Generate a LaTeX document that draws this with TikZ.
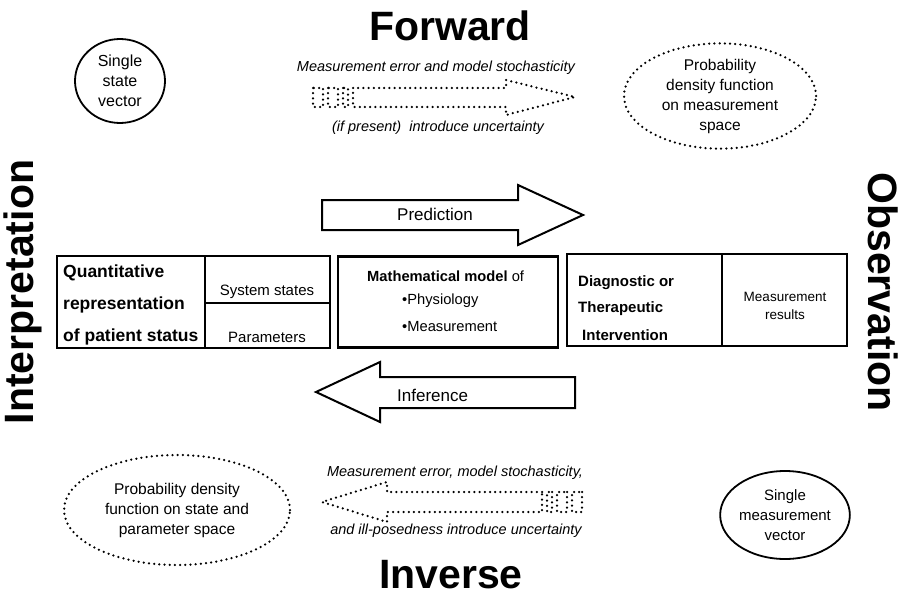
\documentclass[tikz,border=0pt]{standalone}
\usepackage{fontspec}
\setmainfont{Liberation Sans}
\usetikzlibrary{shapes.geometric}
\begin{document}
\begin{tikzpicture}[x=1pt,y=-1pt,
  solidline/.style={line width=1.8pt},
  boxline/.style={line width=2pt},
  dotline/.style={line width=2.5pt, dash pattern=on 0pt off 5.2pt, line cap=round},
  title/.style={font=\fontsize{41}{46}\selectfont\bfseries, inner sep=0pt},
  elltext/.style={align=center, font=\fontsize{15.5}{20}\selectfont, inner sep=0pt},
  itext/.style={font=\fontsize{14.5}{17}\selectfont\itshape, inner sep=0pt},
  boldl/.style={font=\fontsize{17.5}{20}\selectfont\bfseries, inner sep=0pt, anchor=west},
  boldr/.style={font=\fontsize{15}{18}\selectfont\bfseries, inner sep=0pt, anchor=west},
  plain/.style={font=\fontsize{14.7}{18}\selectfont, inner sep=0pt},
  arrowtext/.style={font=\fontsize{17}{20}\selectfont, inner sep=0pt, anchor=west}
]
\useasboundingbox (0,0) rectangle (904,599);

% titles
\node[title] (fw) at (450,26) {Forward};
\node[title] (inv) at (451,575) {Inverse};
\node[title, rotate=90] (interp) at (23,292) {Interpretation};
\node[title, rotate=-90] (obs) at (883,292) {Observation};

% ellipses
\node[draw, solidline, ellipse, minimum width=90, minimum height=84, inner sep=0pt, elltext, font=\fontsize{16}{20}\selectfont] (sv) at (120,81) {Single\\state\\vector};
\node[draw, dotline, ellipse, minimum width=192, minimum height=104, inner sep=0pt, elltext] (pdfm) at (720,96) {Probability\\density function\\on measurement\\space};
\node[draw, dotline, ellipse, minimum width=226, minimum height=110, inner sep=0pt, elltext] (pdfs) at (177,510) {Probability density\\function on state and\\parameter space};
\node[draw, solidline, ellipse, minimum width=90, minimum height=88, inner sep=0pt, elltext, font=\fontsize{15}{20}\selectfont] (smv) at (785,515) {Single\\measurement\\vector};

% forward dotted arrow
\draw[dotline] (313,88) rectangle (323,107);
\draw[dotline] (328,88) rectangle (338,107);
\draw[dotline] (343,88) rectangle (348,107);
\draw[dotline] (353,88) -- (506,88) -- (506,80) -- (575,97) -- (506,115) -- (506,107) -- (353,107) -- cycle;
\node[itext] (fwt1) at (436,68) {Measurement error and model stochasticity};
\node[itext] (fwt2) at (438,128) {(if present)\ \ introduce uncertainty};

% inverse dotted arrow
\draw[dotline] (582,492) rectangle (572,512);
\draw[dotline] (567,492) rectangle (557,512);
\draw[dotline] (552,492) rectangle (547,512);
\draw[dotline] (542,492) -- (387,492) -- (387,482) -- (322,502) -- (387,522) -- (387,512) -- (542,512) -- cycle;
\node[itext] (invt1) at (455,473) {Measurement error, model stochasticity,};
\node[itext] (invt2) at (456,531) {and ill-posedness introduce uncertainty};

% prediction arrow
\draw[boxline] (322,200) -- (518,200) -- (518,185) -- (583,215) -- (518,245) -- (518,230) -- (322,230) -- cycle;
\node[arrowtext] (pred) at (397,214) {Prediction};

% inference arrow
\draw[boxline] (575,377) -- (380,377) -- (380,362) -- (316,392) -- (380,422) -- (380,408) -- (575,408) -- cycle;
\node[arrowtext] (inf) at (397,395) {Inference};

% left group
\node[draw, boxline, minimum width=273, minimum height=92, inner sep=0pt] (lbox) at (193.5,302) {};
\draw[boxline] (205,256) -- (205,348);
\draw[boxline] (205,303) -- (330,303);
\node[boldl] (q1) at (63,273) {Quantitative};
\node[boldl] (q2) at (63,305) {representation};
\node[boldl] (q3) at (63,337) {of patient status};
\node[plain, font=\fontsize{15}{18}\selectfont] (ss) at (267,292) {System states};
\node[plain, font=\fontsize{15}{18}\selectfont] (par) at (267,337) {Parameters};

% middle box
\node[draw, line width=2.6pt, minimum width=220, minimum height=91, inner sep=0pt] (mbox) at (448,302) {};
\node[plain, anchor=west] (mm) at (367,276) {\textbf{Mathematical model} of};
\node[plain, anchor=west] (ph) at (402,301) {•Physiology};
\node[plain, anchor=west] (me) at (402,327) {•Measurement};

% right group
\node[draw, boxline, minimum width=280, minimum height=92, inner sep=0pt] (rbox) at (707,300) {};
\draw[boxline] (722,254) -- (722,346);
\node[boldr] (d1) at (578,283) {Diagnostic or};
\node[boldr] (d2) at (578,309) {Therapeutic};
\node[boldr] (d3) at (582,335) {Intervention};
\node[align=center, font=\fontsize{13.5}{18}\selectfont, inner sep=0pt] (mr) at (785,306) {Measurement\\results};
\end{tikzpicture}
\end{document}
